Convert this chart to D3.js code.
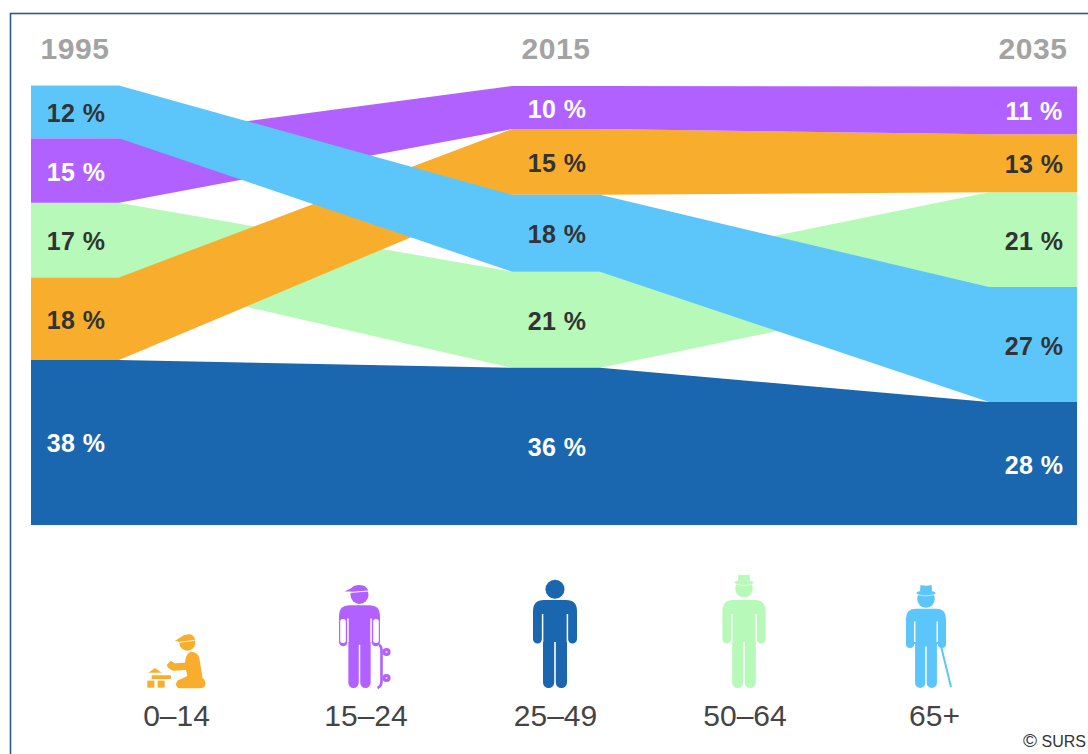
<!DOCTYPE html>
<html>
<head>
<meta charset="utf-8">
<script src="https://cdn.jsdelivr.net/npm/d3@7"></script>
<style>
  html, body { margin: 0; padding: 0; background: #fff; overflow: hidden; }
  text { font-family: "Liberation Sans", Arial, sans-serif; }
</style>
</head>
<body>
<div id="chart"></div>
<script>
// Data
const years = ["1995", "2015", "2035"];
const ages = ["0–14", "15–24", "25–49", "50–64", "65+"];

// band heights (% of population)
const shareKids = [18.8, 15.0, 13.2];
const shareYouth = [14.7, 9.8, 10.9];
const shareAdults = [37.6, 35.8, 28.0];
const shareOlder = [17.0, 21.9, 21.6];
const shareSeniors = [12.0, 17.5, 26.2];

// the percentages printed on the bands
const labelKids = [18, 15, 13];
const labelYouth = [15, 10, 11];
const labelAdults = [38, 36, 28];
const labelOlder = [17, 21, 21];
const labelSeniors = [12, 18, 27];

// stacking order of the groups in each year, bottom to top
const order1995 = ["25–49", "0–14", "50–64", "15–24", "65+"];
const order2015 = ["25–49", "50–64", "65+", "0–14", "15–24"];
const order2035 = ["25–49", "65+", "50–64", "0–14", "15–24"];

const shares = {"0–14": shareKids, "15–24": shareYouth, "25–49": shareAdults, "50–64": shareOlder, "65+": shareSeniors};
const labels = {"0–14": labelKids, "15–24": labelYouth, "25–49": labelAdults, "50–64": labelOlder, "65+": labelSeniors};
const orders = [order1995, order2015, order2035];

const color = d3.scaleOrdinal()
    .domain(ages)
    .range(["#f8ae2c", "#b061ff", "#1a67b0", "#b6f9b8", "#5cc6fb"]);

const labelColor = d3.scaleOrdinal()
    .domain(ages)
    .range(["#333333", "#ffffff", "#ffffff", "#333333", "#333333"]);

const width = 1088, height = 754;

const svg = d3.select("#chart")
  .append("svg")
    .attr("width", width)
    .attr("height", height)
    .style("display", "block");

// Outer frame, runs off the right and bottom of the page
svg.append("rect")
    .attr("x", 10.5)
    .attr("y", 13.5)
    .attr("width", width + 20)
    .attr("height", height + 20)
    .attr("fill", "#fff")
    .attr("stroke", "#2d5a8e")
    .attr("stroke-width", 1.6);

// Scales: each year is a flat stretch, x gives its left end
const stretch = 88;

const x = d3.scaleLinear()
    .domain(years.map(Number))
    .range([31, 512, 989]);

const y = d3.scaleLinear()
    .domain([0, 100])
    .range([525, 86]);

// Stack the groups per year
const stacked = new Map(ages.map(a => [a, []]));
orders.forEach((order, i) => {
    let sum = 0;
    order.forEach(age => {
        const v = shares[age][i];
        stacked.get(age).push({year: +years[i], y0: sum, y1: sum + v, label: labels[age][i], age: age});
        sum += v;
    });
});

const area = d3.area()
    .x(d => d.x)
    .y0(d => y(d.y0))
    .y1(d => y(d.y1));

// Later groups are painted over earlier ones
const paintOrder = ["50–64", "0–14", "15–24", "25–49", "65+"];

svg.append("g")
  .selectAll("path")
  .data(paintOrder)
  .join("path")
    .attr("fill", d => color(d))
    .attr("d", d => area(stacked.get(d).flatMap(p => [
        {...p, x: x(p.year)},
        {...p, x: x(p.year) + stretch}
    ])));

// Year headings
svg.append("g")
  .selectAll("text")
  .data(years)
  .join("text")
    .attr("x", d => x(+d) + stretch / 2)
    .attr("y", 59)
    .attr("text-anchor", "middle")
    .attr("font-size", 30)
    .attr("font-weight", "bold")
    .attr("letter-spacing", 0.6)
    .attr("fill", "#a3a3a3")
    .text(d => d);

// Percentages on the bands
svg.append("g")
  .selectAll("text")
  .data(ages.flatMap(a => stacked.get(a)))
  .join("text")
    .attr("x", d => x(d.year) + stretch / 2 + 1)
    .attr("y", d => y((d.y0 + d.y1) / 2) + 10)
    .attr("text-anchor", "middle")
    .attr("font-size", 25)
    .attr("font-weight", "bold")
    .attr("letter-spacing", 0.4)
    .attr("fill", d => labelColor(d.age))
    .text(d => `${d.label} %`);

// Legend
const legendX = d3.scalePoint()
    .domain(ages)
    .range([176.5, 934.5]);

svg.append("g")
  .selectAll("text")
  .data(ages)
  .join("text")
    .attr("x", d => legendX(d))
    .attr("y", 725.5)
    .attr("text-anchor", "middle")
    .attr("font-size", 30)
    .attr("fill", "#444444")
    .text(d => d);

// Standing figure, origin between the feet
const person = "M-11,-88 H11 Q22,-88 22,-77 V-49 A4.5,4.5 0 0 1 13,-49 H12 V-5.5 A5.6,5.5 0 0 1 0.8,-5.5 V-46 H-0.8 V-5.5 A5.6,5.5 0 0 1 -12,-5.5 V-49 H-13 A4.5,4.5 0 0 1 -22,-49 V-77 Q-22,-88 -11,-88 Z";

function standing(age, dx, sx, sy) {
    const fill = color(age);
    const g = svg.append("g").attr("transform", `translate(${legendX(age) + dx},688)`);
    g.append("path")
        .attr("d", person)
        .attr("fill", fill)
        .attr("transform", `scale(${sx},${sy})`);
    g.selectAll("line.slit")
      .data([-1, 1])
      .join("line")
        .attr("class", "slit")
        .attr("x1", d => d * 12.4 * sx).attr("x2", d => d * 12.4 * sx)
        .attr("y1", -74 * sy).attr("y2", -46)
        .attr("stroke", "#fff")
        .attr("stroke-width", 1.5);
    return g;
}

function hat(g, fill, headY) {
    g.append("circle").attr("cx", 0).attr("cy", headY).attr("r", 8.8).attr("fill", fill);
    g.append("ellipse").attr("cx", 0).attr("cy", headY - 6).attr("rx", 10).attr("ry", 2.8)
        .attr("fill", fill).attr("stroke", "#fff").attr("stroke-width", 0.6);
    g.append("path")
        .attr("d", `M-6,${headY - 8} L-5.5,${headY - 14} Q0,${headY - 12.5} 5.5,${headY - 14} L6,${headY - 8} Z`)
        .attr("fill", fill);
}

// 25-49, plain
const adult = standing("25–49", -0.5, 1, 1);
adult.append("circle").attr("cx", 0).attr("cy", -98.7).attr("r", 9.5).attr("fill", color("25–49"));

// 50-64, with hat
const older = standing("50–64", -1, 0.98, 1);
hat(older, color("50–64"), -99.5);

// 65+, with hat and stick
const senior = standing("65+", -8.5, 0.91, 0.9);
hat(senior, color("65+"), -89);
senior.append("line")
    .attr("x1", 15).attr("y1", -42).attr("x2", 25).attr("y2", -1)
    .attr("stroke", color("65+"))
    .attr("stroke-width", 2);

// 15-24, with cap and skateboard
const youth = standing("15–24", -6.5, 0.93, 0.94);
const cYouth = color("15–24");
youth.selectAll("rect.forearm")
  .data([-1, 1])
  .join("rect")
    .attr("class", "forearm")
    .attr("x", d => d * 16.5 - 2.8).attr("y", -69)
    .attr("width", 5.6).attr("height", 24).attr("rx", 2.5)
    .attr("fill", "#fff");
youth.append("circle").attr("cx", 0).attr("cy", -93).attr("r", 9).attr("fill", cYouth);
youth.append("path")
    .attr("d", "M-15,-96.5 L-8,-100 Q-6,-103 0,-103 Q7,-103 9,-97 L-2,-96.5 Z")
    .attr("fill", cYouth);
youth.append("line")
    .attr("x1", -9).attr("y1", -95.6).attr("x2", 9).attr("y2", -97)
    .attr("stroke", "#fff").attr("stroke-width", 1);
youth.append("path")
    .attr("d", "M19.5,-43 Q22,-42 22,-38 V-6 Q22,-2 18,0")
    .attr("fill", "none").attr("stroke", cYouth).attr("stroke-width", 2.6);
youth.selectAll("circle.wheel")
  .data([-36, -10])
  .join("circle")
    .attr("class", "wheel")
    .attr("cx", 27).attr("cy", d => d).attr("r", 2.6)
    .attr("fill", "#e8d4ff").attr("stroke", cYouth).attr("stroke-width", 3);

// 0-14, child playing with blocks, origin at the icon's lower left
const kid = svg.append("g")
    .attr("transform", `translate(${legendX("0–14") - 46.5},570) scale(${1 / 3})`)
    .attr("fill", color("0–14"));
kid.append("circle").attr("cx", 172).attr("cy", 218).attr("r", 24);
kid.append("path").attr("d", "M135,212 L152,202 Q165,192 180,193 Q192,196 196,210 L150,216 Z");
kid.append("line").attr("x1", 148).attr("y1", 217).attr("x2", 194).attr("y2", 211)
    .attr("stroke", "#fff").attr("stroke-width", 2.5);
kid.append("path").attr("d", "M180,245 Q203,244 208,265 L218,325 Q228,332 226,345 Q222,355 210,355 H150 Q138,354 138,342 Q140,330 152,328 L172,318 L168,300 L130,302 Q114,298 110,285 L122,272 L134,280 L165,278 Q166,255 180,245 Z");
kid.append("path").attr("d", "M55,308 L75,294 L95,308 Z");
kid.append("rect").attr("x", 65).attr("y", 316).attr("width", 58).attr("height", 11).attr("rx", 2);
kid.append("rect").attr("x", 52).attr("y", 332).attr("width", 21).attr("height", 21);
kid.append("rect").attr("x", 83).attr("y", 332).attr("width", 21).attr("height", 21);

// Source
const source = svg.append("text")
    .attr("y", 747)
    .attr("fill", "#333333")
    .attr("font-size", 16);
source.append("tspan").attr("x", 1023).attr("font-size", 19).text("©");
source.append("tspan").attr("x", 1041.5).text("SURS");
</script>
</body>
</html>
